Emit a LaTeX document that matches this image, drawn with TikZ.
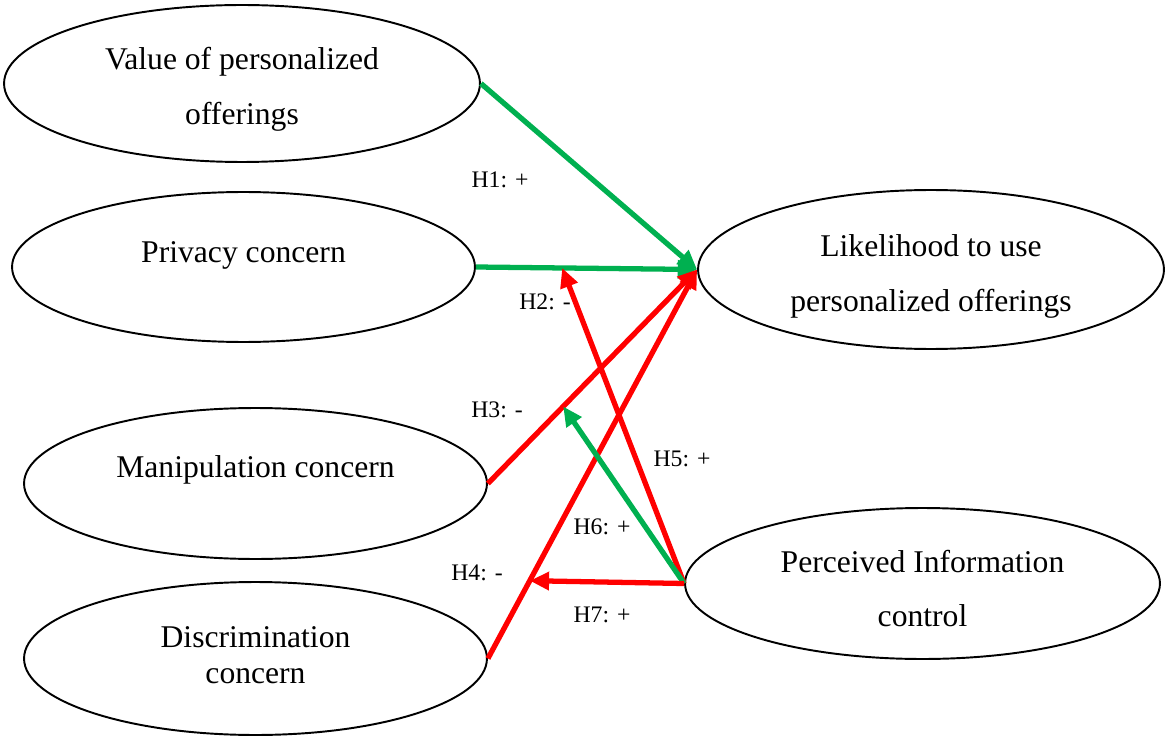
\documentclass[tikz,border=0pt]{standalone}
\usepackage{fontspec}
\setmainfont{Liberation Serif}
\usepackage{tikz}
\usetikzlibrary{shapes.geometric,arrows.meta}

\newcommand{\conceptfont}{\fontsize{18}{31}\selectfont}
\newcommand{\hypfont}{\fontsize{13.5}{16}\selectfont}
\definecolor{hgreen}{RGB}{0,176,80}
\definecolor{hred}{RGB}{255,0,0}

\tikzset{
  concept/.style={ellipse, draw, line width=1.1pt, inner sep=0pt},
  ctext/.style={font=\conceptfont, align=center, inner sep=0pt},
  hyp/.style={font=\hypfont, inner sep=0pt},
  pos link/.style={draw=hgreen, line width=3pt, -{Triangle[length=11pt,width=10pt]}},
  neg link/.style={draw=hred, line width=3pt, -{Triangle[length=11pt,width=10pt]}}
}

\begin{document}
\begin{tikzpicture}[x=0.02cm,y=-0.02cm]
\useasboundingbox (0,0) rectangle (1165,736);
% constructs
\node[concept, minimum width=9.52cm, minimum height=3.14cm,
  label={[ctext, yshift=-0.12cm]center:Value of personalized\\offerings}] (val) at (242,83.5) {};
\node[concept, minimum width=9.26cm, minimum height=3.0cm,
  label={[ctext, yshift=0.24cm]center:Privacy concern}] (priv) at (243.5,267) {};
\node[concept, minimum width=9.26cm, minimum height=3.02cm,
  label={[ctext, yshift=0.28cm]center:Manipulation concern}] (manip) at (255.5,483.5) {};
\node[concept, minimum width=9.26cm, minimum height=3.06cm,
  label={[ctext, font=\fontsize{18}{20.5}\selectfont, yshift=0.06cm]center:Discrimination\\concern}] (disc) at (255.5,658.5) {};
\node[concept, minimum width=9.32cm, minimum height=3.18cm,
  label={[ctext, yshift=-0.14cm]center:Likelihood to use\\personalized offerings}] (like) at (931,269.5) {};
\node[concept, minimum width=9.5cm, minimum height=3.02cm,
  label={[ctext, yshift=-0.1cm]center:Perceived Information\\control}] (perc) at (922.5,583.5) {};

% direct effects
\draw[pos link] (val.east) -- (like.west);
\draw[pos link] (priv.east) -- coordinate[pos=0.39] (m2) (like.west);
\draw[neg link] (manip.east) -- coordinate[pos=0.36] (m3) (like.west);
\draw[neg link] (disc.east) -- coordinate[pos=0.2] (m4) (like.west);

% moderation
\draw[neg link] (perc.west) -- (m2);
\draw[pos link] (perc.west) -- (m3);
\draw[neg link] (perc.west) -- (m4);

% labels
\node[hyp] (h1) at (500,180) {H1: +};
\node[hyp] (h2) at (545,302) {H2: -};
\node[hyp] (h3) at (497,410) {H3: -};
\node[hyp] (h4) at (477,573) {H4: -};
\node[hyp] (h5) at (682,459) {H5: +};
\node[hyp] (h6) at (602,527) {H6: +};
\node[hyp] (h7) at (602,615) {H7: +};
\end{tikzpicture}
\end{document}
